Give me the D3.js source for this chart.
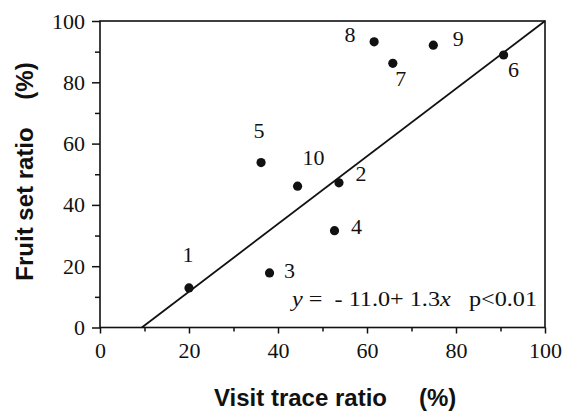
<!DOCTYPE html>
<html><head><meta charset="utf-8">
<script src="https://cdn.jsdelivr.net/npm/d3@7"></script>
<style>body{margin:0;background:#fff}svg{display:block}</style>
</head><body>
<script>
const ids = ["1","2","3","4","5","6","7","8","9","10"];
const visitTrace = [20.0, 53.7, 38.1, 52.7, 36.2, 90.7, 65.8, 61.6, 74.9, 44.4];
const fruitSet = [12.9, 47.2, 17.8, 31.6, 53.8, 88.9, 86.2, 93.2, 92.1, 46.1];
const labelDx = [-1, 22, 20, 22, -2, 10, 8, -24, 25, 16];
const labelDy = [-31, -7, 0, -2, -30, 17, 18, -5, -4, -26];
const lineX = [9.4, 100];
const lineY = [0, 100];
const xTicks = [0, 20, 40, 60, 80, 100];
const yTicks = [0, 20, 40, 60, 80, 100];
const minorTicks = [10, 30, 50, 70, 90];

const W = 566, H = 414;
const svg = d3.select("body").append("svg").attr("width", W).attr("height", H);
const x = d3.scaleLinear().domain([0, 100]).range([100, 545]);
const y = d3.scaleLinear().domain([0, 100]).range([327.5, 21]);
const ink = "#111";
const serif = "'Liberation Serif','Times New Roman',serif";
const sans = "'Liberation Sans',Arial,sans-serif";

// frame
svg.append("rect").attr("x", x(0)).attr("y", y(100)).attr("width", x(100) - x(0)).attr("height", y(0) - y(100))
  .attr("fill", "none").attr("stroke", ink).attr("stroke-width", 1.6);

// bottom axis
const xa = svg.append("g").attr("transform", `translate(0,${y(0)})`)
  .call(d3.axisBottom(x).tickValues(xTicks).tickSize(6).tickPadding(9).tickFormat(d3.format("d")));
const xm = svg.append("g").attr("transform", `translate(0,${y(0)})`)
  .call(d3.axisBottom(x).tickValues(minorTicks).tickSize(4).tickFormat(""));
// left axis
const ya = svg.append("g").attr("transform", `translate(${x(0)},0)`)
  .call(d3.axisLeft(y).tickValues(yTicks).tickSize(8).tickPadding(7).tickFormat(d3.format("d")));
const ym = svg.append("g").attr("transform", `translate(${x(0)},0)`)
  .call(d3.axisLeft(y).tickValues(minorTicks).tickSize(5).tickFormat(""));
[xa, xm, ya, ym].forEach(g => {
  g.select(".domain").remove();
  g.selectAll(".tick line").attr("stroke", ink).attr("stroke-width", 1.5);
  g.selectAll("text").attr("font-family", serif).attr("font-size", 22).attr("fill", ink);
});

// regression line
svg.append("line")
  .attr("x1", x(lineX[0])).attr("y1", y(lineY[0]))
  .attr("x2", x(lineX[1])).attr("y2", y(lineY[1]))
  .attr("stroke", ink).attr("stroke-width", 1.8);

// points
svg.selectAll("circle.pt").data(ids).enter().append("circle")
  .attr("class", "pt")
  .attr("cx", (d, i) => x(visitTrace[i])).attr("cy", (d, i) => y(fruitSet[i]))
  .attr("r", 4.6).attr("fill", ink);

svg.selectAll("text.lab").data(ids).enter().append("text")
  .attr("class", "lab")
  .attr("x", (d, i) => x(visitTrace[i]) + labelDx[i])
  .attr("y", (d, i) => y(fruitSet[i]) + labelDy[i])
  .attr("text-anchor", "middle").attr("dominant-baseline", "middle")
  .attr("font-family", serif).attr("font-size", 22).attr("fill", ink)
  .text(d => d);

// equation
const eq = svg.append("text").attr("x", 292).attr("y", 306)
  .style("white-space", "pre")
  .attr("font-family", serif).attr("font-size", 21).attr("fill", ink);
eq.append("tspan").attr("font-style", "italic").text("y");
eq.append("tspan").text(" =  - 11.0+ 1.3");
eq.append("tspan").attr("font-style", "italic").text("x");
eq.append("tspan").text("   p<0.01");
eq.attr("textLength", 245).attr("lengthAdjust", "spacingAndGlyphs");

// axis titles
const tf = 24;
svg.append("text").attr("x", 214).attr("y", 406)
  .attr("font-family", sans).attr("font-weight", "bold").attr("font-size", tf).attr("fill", ink)
  .text("Visit trace ratio");
svg.append("text").attr("x", 419).attr("y", 406)
  .attr("font-family", sans).attr("font-weight", "bold").attr("font-size", tf).attr("fill", ink)
  .text("(%)");
svg.append("text").attr("transform", "translate(33,204) rotate(-90)").attr("text-anchor", "middle")
  .attr("font-family", sans).attr("font-weight", "bold").attr("font-size", tf).attr("fill", ink)
  .text("Fruit set ratio");
svg.append("text").attr("transform", "translate(33,81) rotate(-90)").attr("text-anchor", "middle")
  .attr("font-family", sans).attr("font-weight", "bold").attr("font-size", tf).attr("fill", ink)
  .text("(%)");
</script>
</body></html>
